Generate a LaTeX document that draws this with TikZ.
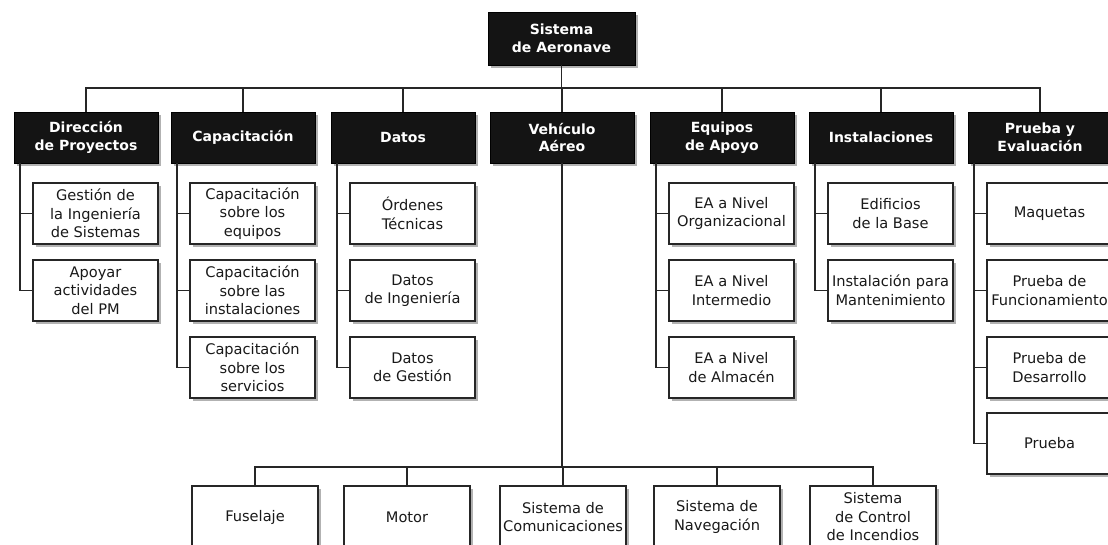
\documentclass[tikz,border=0pt]{standalone}
\usepackage{fontspec}
\setmainfont{DejaVu Sans}
\usetikzlibrary{shadows}
\begin{document}
\begin{tikzpicture}[x=1pt,y=-1pt,
  conn/.style={draw=black!85, line width=1.8pt},
  shadowed/.style={general shadow={fill=black!30, shadow xshift=3pt, shadow yshift=-3pt},
                   general shadow={fill=black!90, shadow xshift=1.4pt, shadow yshift=-1.4pt}},
  headbox/.style={shadowed, draw=black, fill=black!92, text=white, line width=0.8pt,
    minimum width=144pt, minimum height=51pt, inner sep=0pt, align=center,
    font=\fontsize{14}{17.5}\selectfont\bfseries},
  leafbox/.style={shadowed, draw=black!85, fill=white, text=black!90, line width=1.5pt,
    minimum width=125pt, minimum height=61pt, inner sep=0pt, align=center,
    font=\fontsize{14.6}{18.5}\selectfont},
  lowbox/.style={leafbox, minimum width=126pt, minimum height=62pt}
]
\useasboundingbox[fill=white] (0,0) rectangle (1108,544);

% root
\node[headbox, minimum width=147pt, minimum height=53pt] (root) at (561.5,38.5) {Sistema\\de Aeronave};

% level 2
\node[headbox] (dir) at (86,137.5) {Dirección\\de Proyectos};
\node[headbox] (cap) at (243,137.5) {Capacitación};
\node[headbox] (dat) at (403,137.5) {Datos};
\node[headbox] (veh) at (562,137.5) {Vehículo\\Aéreo};
\node[headbox] (equ) at (722,137.5) {Equipos\\de Apoyo};
\node[headbox] (ins) at (881,137.5) {Instalaciones};
\node[headbox] (pru) at (1040,137.5) {Prueba y\\Evaluación};

% children
\node[leafbox] (d1) at (95.5,213.5) {Gestión de\\la Ingeniería\\de Sistemas};
\node[leafbox] (d2) at (95.5,290.5) {Apoyar\\actividades\\del PM};

\node[leafbox] (c1) at (252.5,213.5) {Capacitación\\sobre los\\equipos};
\node[leafbox] (c2) at (252.5,290.5) {Capacitación\\sobre las\\instalaciones};
\node[leafbox] (c3) at (252.5,367.5) {Capacitación\\sobre los\\servicios};

\node[leafbox] (t1) at (412.5,213.5) {Órdenes\\Técnicas};
\node[leafbox] (t2) at (412.5,290.5) {Datos\\de Ingeniería};
\node[leafbox] (t3) at (412.5,367.5) {Datos\\de Gestión};

\node[leafbox] (e1) at (731.5,213.5) {EA a Nivel\\Organizacional};
\node[leafbox] (e2) at (731.5,290.5) {EA a Nivel\\Intermedio};
\node[leafbox] (e3) at (731.5,367.5) {EA a Nivel\\de Almacén};

\node[leafbox] (i1) at (890.5,213.5) {Edificios\\de la Base};
\node[leafbox] (i2) at (890.5,290.5) {Instalación para\\Mantenimiento};

\node[leafbox] (p1) at (1049.5,213.5) {Maquetas};
\node[leafbox] (p2) at (1049.5,290.5) {Prueba de\\Funcionamiento};
\node[leafbox] (p3) at (1049.5,367.5) {Prueba de\\Desarrollo};
\node[leafbox] (p4) at (1049.5,443.5) {Prueba};

% bottom row
\node[lowbox] (v1) at (255,517) {Fuselaje};
\node[lowbox] (v2) at (407,517) {Motor};
\node[lowbox] (v3) at (563,517) {Sistema de\\Comunicaciones};
\node[lowbox] (v4) at (717,517) {Sistema de\\Navegación};
\node[lowbox] (v5) at (873,517) {Sistema\\de Control\\de Incendios};

% buses
\coordinate (bus) at (0,88);
\coordinate (bus2) at (0,467);

\draw[conn] (root.south) -- (root.south |- bus);
\draw[conn] (dir.north) -- (dir.north |- bus) -- (pru.north |- bus) -- (pru.north);
\foreach \n in {cap,dat,veh,equ,ins}
  \draw[conn] (\n.north) -- (\n.north |- bus);

% trunks to children
\foreach \p/\last/\kids in {dir/d2/{d1,d2}, cap/c3/{c1,c2,c3}, dat/t3/{t1,t2,t3},
                            equ/e3/{e1,e2,e3}, ins/i2/{i1,i2}, pru/p4/{p1,p2,p3,p4}}{
  \coordinate (tr) at ([xshift=6pt]\p.south west);
  \draw[conn] (tr) |- (\last.west);
  \foreach \k in \kids
    \draw[conn] (tr |- \k.west) -- (\k.west);
}

% vehicle subtree
\draw[conn] (veh.south) -- (veh.south |- bus2);
\draw[conn] (v1.north) -- (v1.north |- bus2) -- (v5.north |- bus2) -- (v5.north);
\foreach \n in {v2,v3,v4}
  \draw[conn] (\n.north) -- (\n.north |- bus2);
\end{tikzpicture}
\end{document}
